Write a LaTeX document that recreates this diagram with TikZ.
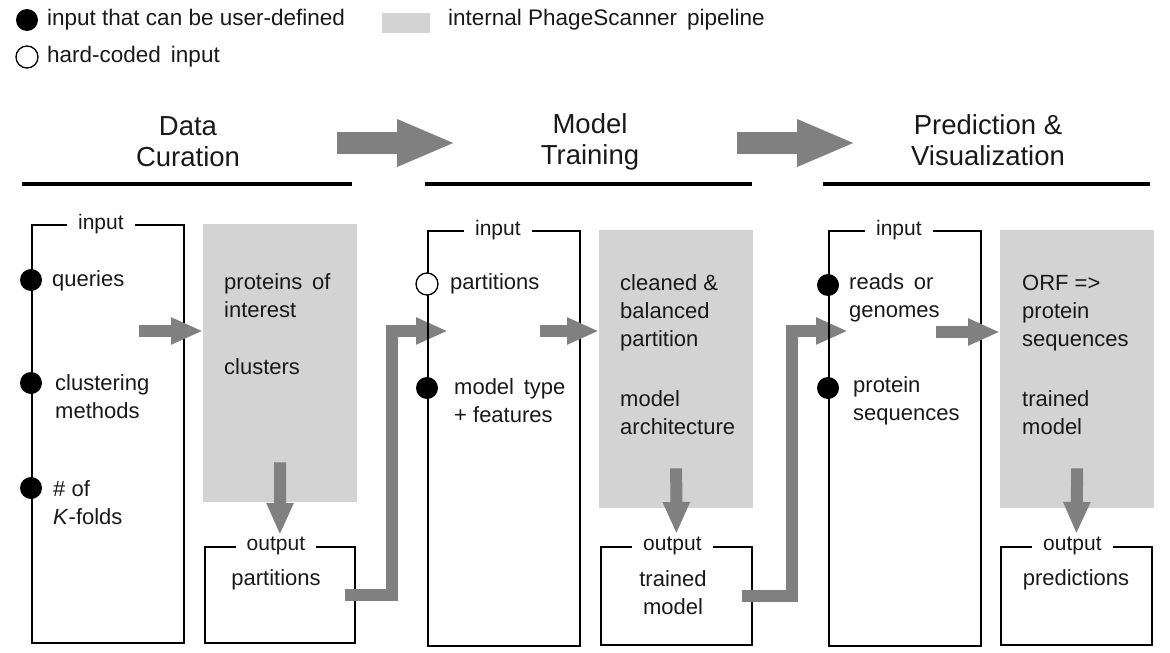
\documentclass[tikz,border=0pt]{standalone}
\usepackage{fontspec}
\setmainfont{Liberation Sans}
\usepackage{tikz}
\usetikzlibrary{arrows.meta, positioning}

\begin{document}
\begin{tikzpicture}[
      x=1pt, y=-1pt,
      every node/.style={font=\fontsize{22}{28}\selectfont, text=black!90},
      inbox/.style={draw, line width=1.8pt, anchor=north west, minimum width=152pt, inner sep=0pt},
      outbox/.style={draw, line width=1.8pt, anchor=north west, minimum width=151pt, minimum height=98pt, inner sep=0pt},
      pipe/.style={fill=pipegray, anchor=north west, minimum width=154pt, minimum height=278pt, inner sep=0pt},
      tag/.style={fill=white, inner xsep=11pt, inner ysep=3pt, font=\fontsize{21}{22}\selectfont},
      item/.style={anchor=west, align=left, inner sep=0pt},
      legend/.style={anchor=west, inner sep=0pt, font=\fontsize{22.5}{24}\selectfont},
      userdot/.style={circle, fill=black, minimum size=22pt, inner sep=0pt},
      fixeddot/.style={circle, draw, fill=white, line width=1.3pt, minimum size=22pt, inner sep=0pt},
      stage/.style={align=center, font=\fontsize{27.5}{31}\selectfont},
      bar/.style={line width=3.5pt},
      flow/.style={draw=flowgray, line width=12pt, -{Triangle[length=32pt, width=25pt]}},
      bigflow/.style={draw=flowgray, line width=22pt, -{Triangle[length=59pt, width=43pt]}}
    ]
    \definecolor{pipegray}{RGB}{211,211,211}
    \definecolor{flowgray}{RGB}{128,128,128}
    \useasboundingbox (0,0) rectangle (1170,653);

    % legend
    \node[userdot] (lgdot1) at (27,20) {};
    \node[legend] (lgtext1) at (47,20) {input that can be user-defined};
    \node[fixeddot] (lgdot2) at (27,57) {};
    \node[legend] (lgtext2) at (47,57) {hard-coded\, input};
    \node[fill=pipegray, minimum width=48pt, minimum height=20pt, inner sep=0pt] (lgbox) at (406,23) {};
    \node[legend] (lgtext3) at (448,20) {internal PhageScanner\, pipeline};

    % stage headers
    \node[stage] (head1) at (188,142) {Data\\Curation};
    \node[stage] (head2) at (590,142) {Model\\Training};
    \node[stage] (head3) at (988,140) {Prediction \&\\Visualization};
    \draw[bar] (22,184) -- (352,184);
    \draw[bar] (425,184) -- (752,184);
    \draw[bar] (823,184) -- (1150,184);
    \coordinate (go1) at (337,143);
    \coordinate (go2) at (737,143);
    \draw[bigflow] (go1) -- ++(119,0);
    \draw[bigflow] (go2) -- ++(119,0);

    % Data curation
    \node[inbox, minimum height=418pt] (in1) at (31,224) {};
    \node[tag] at ([xshift=-7pt]in1.north) {input};
    \node[userdot] at (31,280) {};
    \node[userdot] at (31,383) {};
    \node[userdot] at (31,488) {};
    \node[item] (q1) at (52,281) {queries};
    \node[item] (q2) at (55,397) {clustering\\methods};
    \node[item] (q3) at (53,503) {\# of\\\textit{K}-folds};
    \node[pipe] (pipe1) at (203,224) {};
    \node[item] (p1) at (224,296) {proteins\, of\\interest};
    \node[item] (p2) at (224,367) {clusters};
    \node[outbox, minimum width=150pt, minimum height=96pt] (out1) at (204,546) {};
    \node[tag] at ([xshift=-4pt]out1.north) {output};
    \node (r1) at (276,580) {partitions};
    \coordinate (s1) at (139,331);
    \draw[flow] (s1) -- (s1 -| pipe1.west);
    \draw[flow] ([yshift=40pt]pipe1.south) -- ([yshift=11pt]out1.north);

    % link to model training
    \coordinate (j1) at (392,331);
    \coordinate (e1) at (448,331);
    \draw[flow] ([xshift=-11pt]out1.east) -| (j1) -- (e1);

    % Model training
    \node[inbox, minimum height=415pt] (in2) at (427,230) {};
    \node[tag] at ([xshift=-6pt]in2.north) {input};
    \node[fixeddot] at (427,284) {};
    \node[userdot] at (427,388) {};
    \node[item] (m1) at (450,284) {partitions};
    \node[item] (m2) at (454,401) {model\, type\\+ features};
    \node[pipe] (pipe2) at (599,230) {};
    \node[item] (c1) at (620,313) {cleaned \&\\balanced\\partition};
    \node[item] (c2) at (620,413) {model\\architecture};
    \node[outbox] (out2) at (600,546) {};
    \node[tag] at ([xshift=-4pt]out2.north) {output};
    \node[align=center] (r2) at (673,593) {trained\\model};
    \coordinate (s2) at (540,331);
    \draw[flow] (s2) -- (s2 -| pipe2.west);
    \draw[flow] ([yshift=40pt]pipe2.south) -- ([yshift=12pt]out2.north);

    % link to prediction
    \coordinate (j2) at (792,331);
    \coordinate (e2) at (848,331);
    \draw[flow] ([xshift=-11pt]out2.east) -| (j2) -- (e2);

    % Prediction & visualization
    \node[inbox, minimum height=415pt] (in3) at (828,230) {};
    \node[tag] at ([xshift=-6pt]in3.north) {input};
    \node[userdot] at (828,285) {};
    \node[userdot] at (828,388) {};
    \node[item] (v1) at (849,298) {reads\, or\\genomes};
    \node[item] (v2) at (853,401) {protein\\sequences};
    \node[pipe] (pipe3) at (1000,230) {};
    \node[item] (o1) at (1022,313) {ORF =>\\protein\\sequences};
    \node[item] (o2) at (1022,413) {trained\\model};
    \node[outbox] (out3) at (1000,546) {};
    \node[tag] at ([xshift=-4pt]out3.north) {output};
    \node (r3) at (1076,580) {predictions};
    \coordinate (s3) at (936,332);
    \draw[flow] (s3) -- (s3 -| pipe3.west);
    \draw[flow] ([yshift=40pt]pipe3.south) -- ([yshift=12pt]out3.north);
\end{tikzpicture}
\end{document}
